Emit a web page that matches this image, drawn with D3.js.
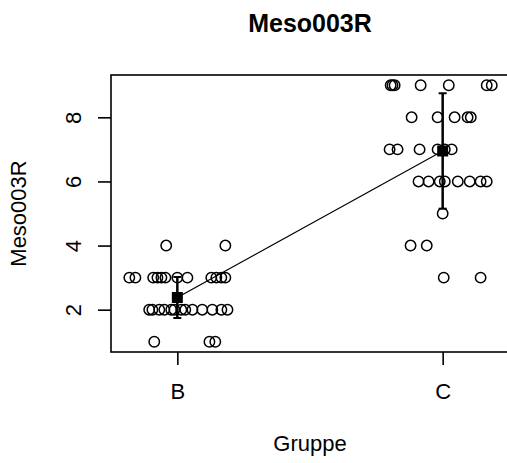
<!DOCTYPE html>
<html>
<head>
<meta charset="utf-8">
<script src="https://cdn.jsdelivr.net/npm/d3@7"></script>
<style>
  body { margin: 0; background: #fff; }
  svg text { font-family: "Liberation Sans", Arial, sans-serif; fill: #000; }
</style>
</head>
<body>
<div id="chart"></div>
<script>
// groups on the x axis
const groups = ["B", "C"];

// observed scores per group, with the jittered x position (1 = B, 2 = C)
const bValues = [4, 4,
  3, 3, 3, 3, 3, 3, 3, 3, 3, 3, 3, 3,
  2, 2, 2, 2, 2, 2, 2, 2, 2, 2, 2, 2, 2,
  1, 1, 1];
const bJitter = [0.958, 1.181,
  0.819, 0.842, 0.909, 0.925, 0.940, 0.955, 1.000, 1.038, 1.128, 1.147, 1.166, 1.181,
  0.894, 0.906, 0.932, 0.951, 0.977, 0.989, 1.015, 1.030, 1.057, 1.094, 1.132, 1.166, 1.189,
  0.913, 1.121, 1.143];

const cValues = [9, 9, 9, 9, 9, 9, 9,
  8, 8, 8, 8, 8,
  7, 7, 7, 7, 7, 7,
  6, 6, 6, 6, 6, 6, 6, 6,
  5,
  4, 4,
  3, 3];
const cJitter = [1.804, 1.811, 1.819, 1.917, 2.023, 2.166, 2.185,
  1.883, 1.981, 2.045, 2.094, 2.106,
  1.800, 1.830, 1.913, 1.981, 2.008, 2.034,
  1.909, 1.947, 1.989, 2.008, 2.057, 2.102, 2.143, 2.166,
  2.000,
  1.879, 1.940,
  2.004, 2.143];

// group means and half width of the error bars
const means = [2.38, 6.95];
const errors = [0.64, 1.80];

const yTicks = [2, 4, 6, 8];

const config = {
  width: 507,
  height: 463,
  margin: {top: 75, right: -2, bottom: 111, left: 111}
};

const innerW = config.width - config.margin.left - config.margin.right;
const innerH = config.height - config.margin.top - config.margin.bottom;

const svg = d3.select("#chart")
  .append("svg")
  .attr("width", config.width)
  .attr("height", config.height);

const g = svg.append("g")
  .attr("transform", `translate(${config.margin.left},${config.margin.top})`);

const xScale = d3.scaleLinear().domain([0.75, 2.25]).range([0, innerW]);
const yScale = d3.scaleLinear().domain([0.68, 9.32]).range([innerH, 0]);

const points = [
  ...bValues.map((v, i) => ({x: bJitter[i], y: v})),
  ...cValues.map((v, i) => ({x: cJitter[i], y: v}))
];

// raw observations
g.append("g")
  .selectAll("circle")
  .data(points)
  .join("circle")
  .attr("cx", d => xScale(d.x))
  .attr("cy", d => yScale(d.y))
  .attr("r", 5.2)
  .attr("fill", "none")
  .attr("stroke", "#000")
  .attr("stroke-width", 1.5);

// line linking the means
g.append("path")
  .datum(means)
  .attr("d", d3.line().x((d, i) => xScale(i + 1)).y(d => yScale(d)))
  .attr("fill", "none")
  .attr("stroke", "#000")
  .attr("stroke-width", 1.2);

// error bars
const bars = g.append("g")
  .selectAll("g")
  .data(means)
  .join("g");

bars.append("line")
  .attr("x1", (d, i) => xScale(i + 1))
  .attr("x2", (d, i) => xScale(i + 1))
  .attr("y1", (d, i) => yScale(d - errors[i]))
  .attr("y2", (d, i) => yScale(d + errors[i]))
  .attr("stroke", "#000")
  .attr("stroke-width", 2.5);

[-1, 1].forEach(s => {
  bars.append("line")
    .attr("x1", (d, i) => xScale(i + 1) - 4)
    .attr("x2", (d, i) => xScale(i + 1) + 4)
    .attr("y1", (d, i) => yScale(d + s * errors[i]))
    .attr("y2", (d, i) => yScale(d + s * errors[i]))
    .attr("stroke", "#000")
    .attr("stroke-width", 2);
});

bars.append("rect")
  .attr("x", (d, i) => xScale(i + 1) - 5.5)
  .attr("y", d => yScale(d) - 5.5)
  .attr("width", 11)
  .attr("height", 11)
  .attr("fill", "#000");

// plot box
g.append("rect")
  .attr("width", innerW)
  .attr("height", innerH)
  .attr("fill", "none")
  .attr("stroke", "#000")
  .attr("stroke-width", 1.6);

// y axis
const yAxis = g.append("g")
  .call(d3.axisLeft(yScale).tickValues(yTicks).tickSize(13));
yAxis.select(".domain").remove();
yAxis.selectAll(".tick line").attr("stroke-width", 1.6);
yAxis.selectAll(".tick text")
  .attr("font-size", 22)
  .attr("font-family", null)
  .attr("transform", "rotate(-90)")
  .attr("x", 0)
  .attr("y", -38)
  .attr("dy", "0.35em")
  .attr("text-anchor", "middle");

// x axis
const xAxis = g.append("g")
  .attr("transform", `translate(0,${innerH})`)
  .call(d3.axisBottom(xScale).tickValues([1, 2]).tickFormat(d => groups[d - 1]).tickSize(13).tickPadding(18));
xAxis.select(".domain").remove();
xAxis.selectAll(".tick line").attr("stroke-width", 1.6);
xAxis.selectAll(".tick text")
  .attr("font-size", 22)
  .attr("font-family", null);

// titles
svg.append("text")
  .attr("x", config.margin.left + innerW / 2)
  .attr("y", 32)
  .attr("text-anchor", "middle")
  .attr("font-size", 25)
  .attr("font-weight", "bold")
  .text("Meso003R");

svg.append("text")
  .attr("x", config.margin.left + innerW / 2)
  .attr("y", 451)
  .attr("text-anchor", "middle")
  .attr("font-size", 22)
  .text("Gruppe");

svg.append("text")
  .attr("transform", `translate(26,${config.margin.top + innerH / 2}) rotate(-90)`)
  .attr("text-anchor", "middle")
  .attr("font-size", 22)
  .text("Meso003R");
</script>
</body>
</html>
